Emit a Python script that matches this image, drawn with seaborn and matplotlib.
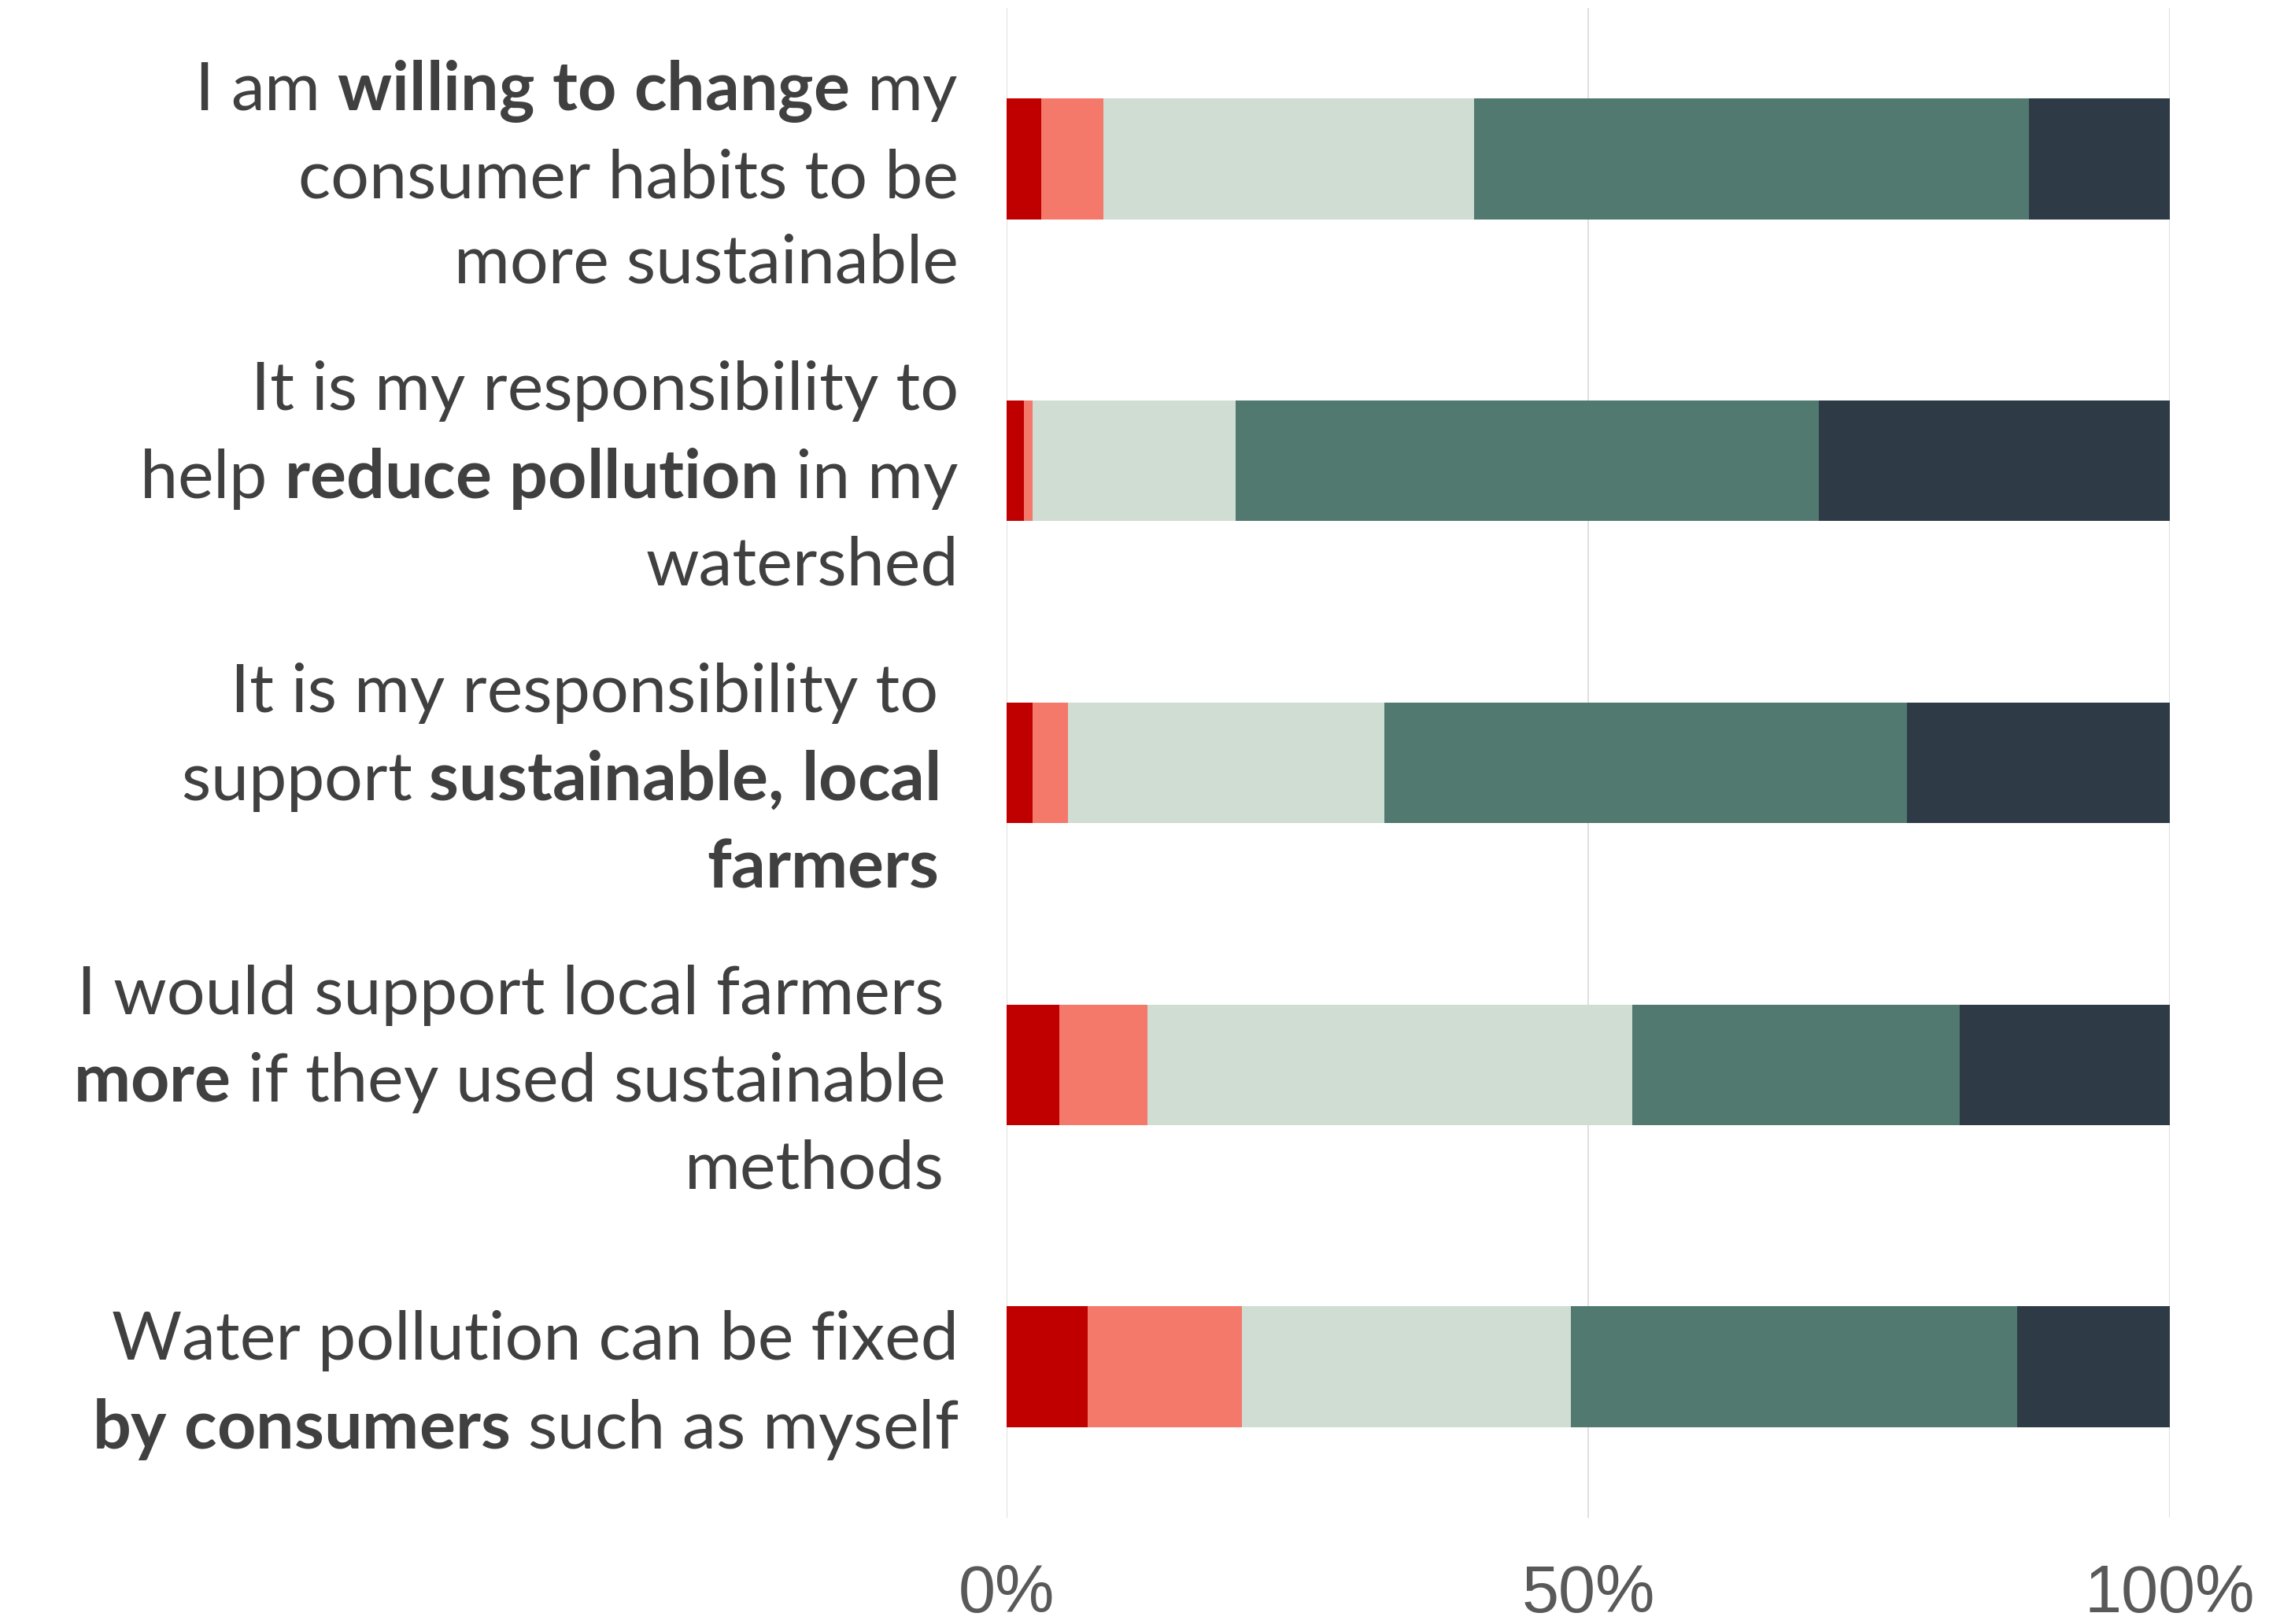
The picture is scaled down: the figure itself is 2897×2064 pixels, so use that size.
import numpy as np
import pandas as pd
import matplotlib
matplotlib.use("Agg")
import matplotlib.pyplot as plt
from matplotlib.transforms import ScaledTranslation
import seaborn as sns

# ---- data ----
statements = [
    "I am $\\mathbf{willing\\ to\\ change}$ my\nconsumer habits to be\nmore sustainable",
    "It is my responsibility to\nhelp $\\mathbf{reduce\\ pollution}$ in my\nwatershed",
    "It is my responsibility to\nsupport $\\mathbf{sustainable{,}\\ local}$\n$\\mathbf{farmers}$",
    "I would support local farmers\n$\\mathbf{more}$ if they used sustainable\nmethods",
    "Water pollution can be fixed\n$\\mathbf{by\\ consumers}$ such as myself",
]
strongly_disagree = [3.0, 1.5, 2.25, 4.5, 7.0]
disagree          = [5.3, 0.75, 3.0, 7.6, 13.2]
neutral           = [31.9, 17.45, 27.25, 41.7, 28.3]
agree             = [47.7, 50.1, 44.9, 28.1, 38.4]
strongly_agree    = [12.1, 30.2, 22.6, 18.1, 13.1]
series_names = ["Strongly disagree", "Disagree", "Neutral", "Agree", "Strongly agree"]
series_colors = ["#C00000", "#F4796B", "#CFDDD3", "#51796F", "#2E3B46"]
xtick_values = [0, 50, 100]
xtick_labels = ["0%", "50%", "100%"]
# extra right indent of each statement label (pixels), mimicking trailing spaces
label_indent_px = [0, 0, 26, 18, 0]

sns.set_theme(style="white")
plt.rcParams["font.family"] = ["Lato", "DejaVu Sans"]
plt.rcParams["mathtext.fontset"] = "custom"
plt.rcParams["mathtext.rm"] = "Lato"
plt.rcParams["mathtext.bf"] = "Lato:bold"
plt.rcParams["mathtext.it"] = "Lato:italic"

series = [strongly_disagree, disagree, neutral, agree, strongly_agree]
cum = np.cumsum(np.array(series), axis=0)

fig = plt.figure(figsize=(28.97, 20.64), dpi=100)
ax = fig.add_axes([0.4415, 0.0654, 0.5102, 0.9298])

# draw cumulative totals from the outermost segment inward
for i in reversed(range(len(series))):
    df = pd.DataFrame({"statement": statements, "value": cum[i]})
    sns.barplot(data=df, y="statement", x="value", order=statements,
                color=series_colors[i], saturation=1, width=0.4,
                orient="h", ax=ax, linewidth=0, zorder=2)

ax.set_xlim(0, 100)
ax.set_ylim(4.5, -0.5)
ax.set_xticks(xtick_values)
ax.set_xticklabels(xtick_labels, fontfamily=["Liberation Sans", "DejaVu Sans"],
                   fontsize=61, color="#595959")
ax.xaxis.grid(True, color="#D9D9D9", linewidth=1.2, zorder=0)
ax.yaxis.grid(False)
ax.set_axisbelow(True)
for s in ax.spines.values():
    s.set_visible(False)
ax.tick_params(axis="x", length=0, pad=42)
ax.tick_params(axis="y", length=0, pad=44)
for lab in ax.get_yticklabels():
    lab.set_fontsize(62)
    lab.set_color("#404040")
    lab.set_multialignment("right")
    lab.set_linespacing(1.48)
for tick, dx in zip(ax.yaxis.get_major_ticks(), label_indent_px):
    tick.label1.set_transform(tick.label1.get_transform()
                              + ScaledTranslation(-dx / fig.dpi, 0, fig.dpi_scale_trans))
ax.set_xlabel("")
ax.set_ylabel("")

fig.savefig("out.png", dpi=100, facecolor="white")
